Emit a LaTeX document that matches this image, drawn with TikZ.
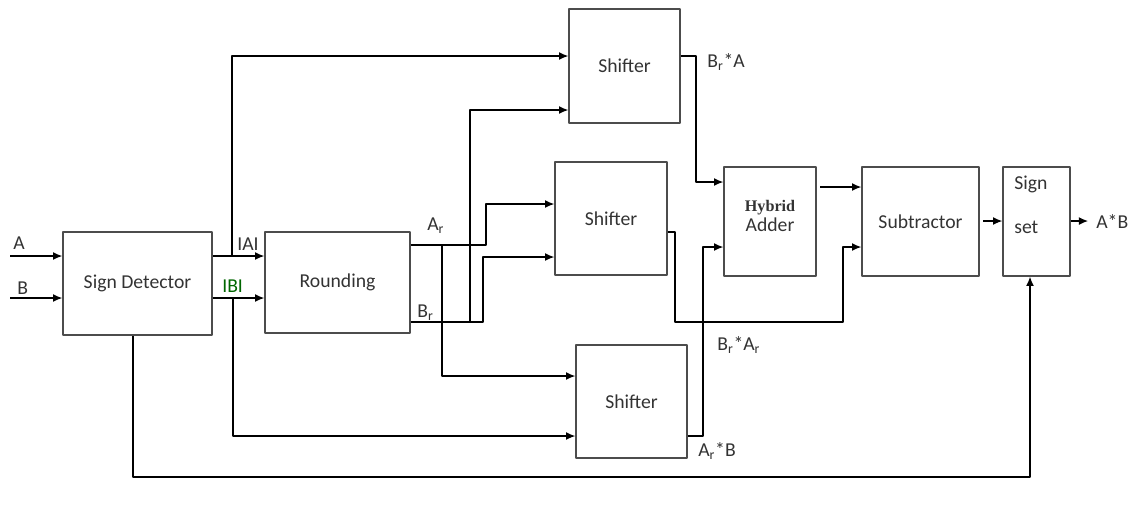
\documentclass[tikz,border=0pt]{standalone}
\usepackage{fontspec}
\setmainfont{Carlito}
\newfontfamily\hybfont{Liberation Serif}
\usepackage{tikz}
\usetikzlibrary{arrows.meta,calc}
\usetikzlibrary{positioning}
\newlength\px
\setlength\px{0.25mm}
\tikzset{blk/.style 2 args={draw=black!70,line width=1.1pt,inner sep=0pt,text=black!80,
    minimum width=#1*0.25mm,minimum height=#2*0.25mm},
  lbl/.style={text=black!80,inner sep=0.5pt}}

\begin{document}
\begin{tikzpicture}[x=\px,y=-\px,>={Latex[length=2.3mm,width=2mm]},line width=0.85pt,line join=round,font=\fontsize{14}{16}\selectfont]
\useasboundingbox (0,0) rectangle (1136,506);
% --- blocks
\node[blk={149}{103}] (sd) at (137.5,283.5) {Sign Detector};
\node[blk={145}{101}] (rnd) at (337.5,282.5) {\raisebox{-5\px}{Rounding}};
\node[blk={111}{114}] (shA) at (624.5,66) {Shifter};
\node[blk={112}{113}] (shM) at (611,218.5) {Shifter};
\node[blk={111}{113}] (shB) at (631.5,401.5) {\raisebox{-4\px}{Shifter}};
\node[blk={92}{109}] (ha) at (770,221.5) {};
\node[lbl,align=center] (haT) at (770,216) {{\hybfont\bfseries\fontsize{11.5}{13}\selectfont Hybrid}\\[-2pt]Adder};
\node[blk={117}{109}] (sub) at (920.5,221.5) {\raisebox{-5\px}{Subtractor}};
\node[blk={67}{109}] (ss) at (1036.5,221.5) {};
\node[lbl,anchor=west] (ssT1) at (1013,184) {Sign};
\node[lbl,anchor=west] (ssT2) at (1013,227) {set};
% --- inputs and magnitudes
\coordinate (inA) at (10,256);
\coordinate (inB) at (10,298);
\node[lbl,anchor=west] (labA) at (12,243) {A};
\node[lbl,anchor=west] (labB) at (16,288) {B};
\draw[->] (inA) -- (sd.west |- inA);
\draw[->] (inB) -- (sd.west |- inB);
\coordinate (jA) at (232,256);
\coordinate (jB) at (233,298);
\draw[->] (sd.east |- jA) -- (rnd.west |- jA);
\draw[->] (sd.east |- jB) -- (rnd.west |- jB);
\node[lbl,anchor=west] (labAA) at (236,244) {IAI};
\node[lbl,anchor=west,text=green!40!black] (labBB) at (221,286) {IBI};
\draw[->] (jA) |- (shA.west |- 0,56);
\draw[->] (jB) |- (shB.west |- 0,436);
% --- rounded operands
\coordinate (tA) at (486,245);
\coordinate (jAr) at (442,245);
\coordinate (tB) at (483,322);
\coordinate (jBr) at (470,322);
\node[lbl,anchor=west] (labAr) at (426,226) {A\textsubscript{r}};
\node[lbl,anchor=west] (labBr) at (416,313) {B\textsubscript{r}};
\draw[->] (rnd.east |- tA) -- (tA) |- (shM.west |- 0,204);
\draw[->] (jAr) |- (shB.west |- 0,376);
\draw[->] (rnd.east |- tB) -- (tB) |- (shM.west |- 0,257);
\draw[->] (jBr) |- (shA.west |- 0,110);
% --- partial products
\coordinate (cA) at (696,182);
\coordinate (cM1) at (675,322);
\coordinate (cM2) at (843,247);
\coordinate (cB) at (703,247);
\draw[->] (shA.east |- 0,56) -| (cA) -- (ha.west |- cA);
\draw[->] (shM.east |- 0,232) -| (cM1) -| (cM2) -- (sub.west |- cM2);
\draw[->] (shB.east |- 0,436) -| (cB) -- (ha.west |- cB);
\node[lbl,anchor=west] (labBA) at (706,62) {B\textsubscript{r}*A};
\node[lbl,anchor=west] (labBAr) at (716,345) {B\textsubscript{r}*A\textsubscript{r}};
\node[lbl,anchor=west] (labArB) at (697,451) {A\textsubscript{r}*B};
% --- adder, subtractor, sign
\coordinate (hs) at (820,187);
\coordinate (so) at (983,221);
\coordinate (outP) at (1088,221);
\draw[->] (hs) -- (sub.west |- hs);
\draw[->] (so) -- (ss.west |- so);
\draw[->] (ss.east |- outP) -- (outP);
\node[lbl,anchor=west] (labOut) at (1095,222) {A*B};
\coordinate (cS) at (133,477);
\coordinate (cS2) at (1030,477);
\draw[->] (sd.south -| cS) -- (cS) -- (cS2) -- (ss.south -| cS2);
\end{tikzpicture}
\end{document}
